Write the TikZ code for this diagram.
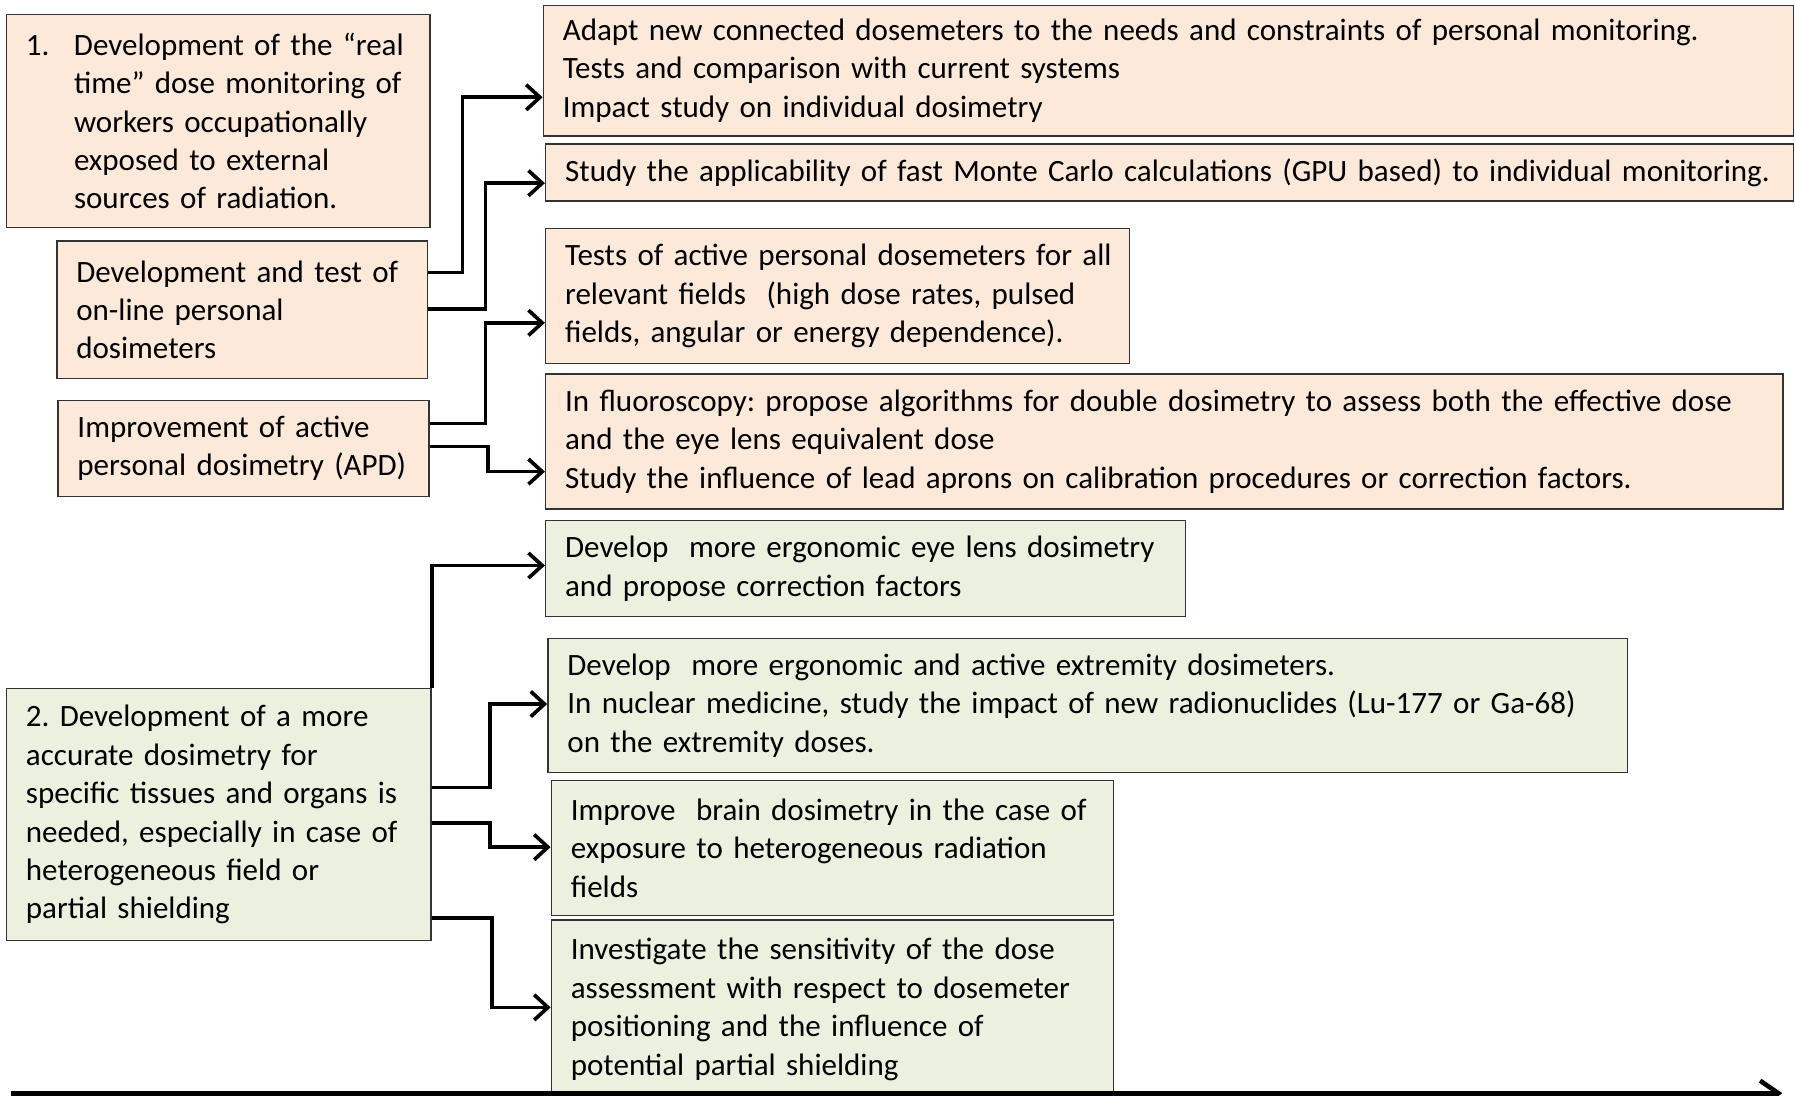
\documentclass[tikz,border=0pt]{standalone}
\usepackage{fontspec}
\setmainfont{Carlito}[WordSpace=0.8]
\usetikzlibrary{arrows.meta}
\definecolor{peach}{HTML}{FDE9D9}
\definecolor{sage}{HTML}{EBF1DE}
\begin{document}
\frenchspacing
\hyphenpenalty=10000\relax
\exhyphenpenalty=10000\relax
\begin{tikzpicture}[x=1pt,y=-1pt,
  box/.style={draw=black!80, line width=1.3pt, anchor=north west, align=left,
    inner xsep=17pt, inner ysep=0pt,
    font=\fontsize{27.1}{33.6}\selectfont},
  tone1/.style={box, fill=peach},
  tone2/.style={box, fill=sage},
  conn/.style={line width=3.2pt, -{Straight Barb[length=12pt,width=22pt]}},
  axis/.style={line width=4pt, -{Straight Barb[length=16pt,width=22pt]}}]
\useasboundingbox (0,0) rectangle (1568,957);
\clip (0,0) rectangle (1568,957);
\fill[white] (0,0) rectangle (1568,957);

% objective 1 and its two sub-objectives
\node[tone1, text width=336pt, minimum height=186pt] (A1) at (5,12)
  {\mbox{\makebox[42pt][l]{1.}Development of the “real}\\
   \hspace*{42pt}time” dose monitoring of\\
   \hspace*{42pt}workers occupationally\\
   \hspace*{42pt}exposed to external\\
   \hspace*{42pt}sources of radiation.};
\node[tone1, text width=290pt, minimum height=120pt] (A2) at (49,210)
  {Development and test of\\ on-line personal\\ dosimeters};
\node[tone1, text width=290pt, minimum height=84pt] (A3) at (50,349)
  {Improvement of active\\ personal dosimetry (APD)};

% research actions for objective 1
\node[tone1, text width=1058pt, minimum height=114pt] (R1) at (474,4)
  {\mbox{Adapt new connected dosemeters to the needs and constraints of personal monitoring.}\\
   Tests and comparison with current systems\\
   Impact study on individual dosimetry};
\node[tone1, text width=1056pt, minimum height=50pt] (R2) at (476,125)
  {\mbox{Study the applicability of fast Monte Carlo calculations (GPU based) to individual monitoring.}};
\node[tone1, text width=476pt, minimum height=118pt] (R3) at (476,199)
  {\mbox{Tests of active personal dosemeters for all}\\
   relevant fields~~(high dose rates, pulsed\\
   fields, angular or energy dependence).};
\node[tone1, text width=1047pt, minimum height=118pt] (R4) at (476,326)
  {\mbox{In fluoroscopy: propose algorithms for double dosimetry to assess both the effective dose}\\
   and the eye lens equivalent dose\\
   Study the influence of lead aprons on calibration procedures or correction factors.};

% objective 2
\node[tone2, text width=337pt, minimum height=220pt] (B) at (5,601)
  {2. Development of a more\\
   accurate dosimetry for\\
   \mbox{specific tissues and organs is}\\
   \mbox{needed, especially in case of}\\
   heterogeneous field or\\
   partial shielding};

% research actions for objective 2
\node[tone2, text width=525pt, minimum height=84pt] (G1) at (476,454)
  {Develop~~more ergonomic eye lens dosimetry\\
   and propose correction factors};
\node[tone2, text width=909pt, minimum height=117pt] (G2) at (478,557)
  {Develop~~more ergonomic and active extremity dosimeters.\\
   In nuclear medicine, study the impact of new radionuclides (Lu-177 or Ga-68)\\
   on the extremity doses.};
\node[tone2, text width=457pt, minimum height=118pt] (G3) at (481,681)
  {Improve~~brain dosimetry in the case of\\
   exposure to heterogeneous radiation\\
   fields};
\node[tone2, text width=457pt, minimum height=156pt] (G4) at (481,803)
  {Investigate the sensitivity of the dose\\
   assessment with respect to dosemeter\\
   positioning and the influence of\\
   potential partial shielding};

% connectors
\draw[conn] (A2.east |- 0,238) -| (404,85) -- (R1.west |- 0,85);
\draw[conn] (A2.east |- 0,270) -| (424,160) -- (R2.west |- 0,160);
\draw[conn] (A3.east |- 0,370) -| (424,282) -- (R3.west |- 0,282);
\draw[conn] (A3.east |- 0,390) -| (426,412) -- (R4.west |- 0,412);
\draw[conn] (B.north east) |- (G1.west |- 0,494);
\draw[conn] (B.east |- 0,688) -| (428,615) -- (G2.west |- 0,615);
\draw[conn] (B.east |- 0,719) -| (428,740) -- (G3.west |- 0,740);
\draw[conn] (B.east |- 0,802) -| (430,880) -- (G4.west |- 0,880);

% time axis
\coordinate (ax0) at (10,955);
\coordinate (ax1) at (1557,955);
\draw[axis] (ax0) -- (ax1);
\end{tikzpicture}
\end{document}
